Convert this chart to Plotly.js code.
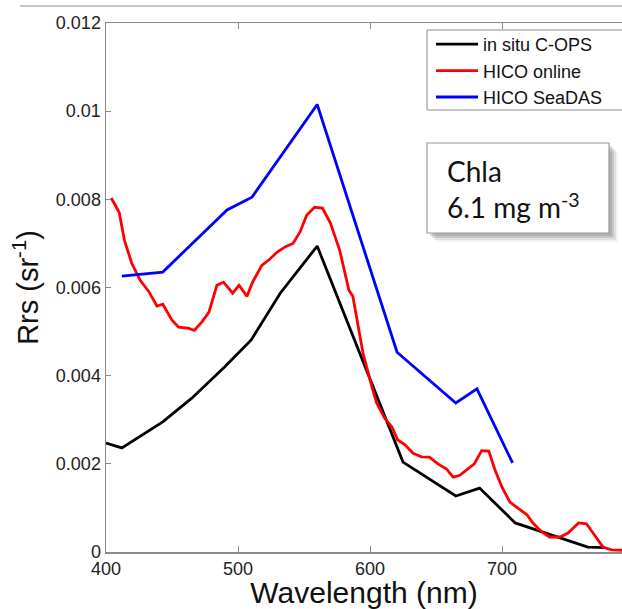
<!DOCTYPE html>
<html>
<head>
<meta charset="utf-8">
<script src="https://cdn.plot.ly/plotly-3.0.1.min.js"></script>
<style>html,body{margin:0;padding:0;background:#fff;}#chart{width:622px;height:609px;}</style>
</head>
<body>
<div id="chart"></div>
<script>
// ---- data ----
const copsWl   = [400, 412, 443, 465, 490, 510, 532, 560, 625, 665, 683, 710, 765, 778];
const copsRrs  = [0.00247, 0.00236, 0.00295, 0.00349, 0.00420, 0.00481, 0.00587, 0.00694, 0.00204, 0.00127, 0.00145, 0.00066, 0.00011, 0.00010];

const onlineWl  = [404, 410, 414, 419.5, 425.8, 432.6, 438.6, 443, 450, 455, 462, 467, 472.7, 478, 484, 489, 496, 500.8, 506.8, 511, 518, 524, 529.5, 535.6, 541.7, 547, 552, 558, 564, 570, 577, 584, 587, 594.7, 601.5, 605, 611, 616.7, 621, 626.5, 632.6, 639, 645, 651.5, 658, 663, 668, 673.5, 679, 684.6, 690, 694.7, 700, 706, 712, 719, 723.6, 730, 736, 744, 750, 758, 764, 770, 776.5, 783, 791];
const onlineRrs = [0.00803, 0.00770, 0.00707, 0.00655, 0.00617, 0.00590, 0.00558, 0.00562, 0.00526, 0.00510, 0.00508, 0.00503, 0.00522, 0.00544, 0.00605, 0.00612, 0.00587, 0.00605, 0.00580, 0.00612, 0.00650, 0.00664, 0.00680, 0.00692, 0.00700, 0.00726, 0.00764, 0.00782, 0.00780, 0.00746, 0.00685, 0.00594, 0.00580, 0.00451, 0.00374, 0.00338, 0.00304, 0.00283, 0.00254, 0.00243, 0.00224, 0.00216, 0.00215, 0.00200, 0.00188, 0.00170, 0.00174, 0.00186, 0.00200, 0.00230, 0.00229, 0.00186, 0.00147, 0.00113, 0.00099, 0.00084, 0.00065, 0.00046, 0.00034, 0.00034, 0.00043, 0.00066, 0.00064, 0.00038, 0.00011, 0.00005, 0.00004];

const seadasWl  = [412, 443, 491.7, 510.6, 560, 620.5, 665, 681, 708];
const seadasRrs = [0.00626, 0.00635, 0.00776, 0.00805, 0.01015, 0.00453, 0.00338, 0.00370, 0.00202];

const seriesNames = ['in situ C-OPS', 'HICO online', 'HICO SeaDAS'];
const xTickVals = [400, 500, 600, 700, 800];
const xTickText = ['400', '500', '600', '700', '800'];
const yTickVals = [0, 0.002, 0.004, 0.006, 0.008, 0.01, 0.012];
const yTickText = ['0', '0.002', '0.004', '0.006', '0.008', '0.01', '0.012'];
const chlaText = 'Chla<br>6.1 mg m<sup>-3</sup>';

// ---- layout helpers (pixel -> paper) ----
const L = 106, T = 23, W = 516, H = 529;
const px = x => (x - L) / W;
const py = y => (T + H - y) / H;

const traces = [
  {x: copsWl, y: copsRrs, name: seriesNames[0], mode: 'lines', line: {color: '#000000', width: 2.8}},
  {x: onlineWl, y: onlineRrs, name: seriesNames[1], mode: 'lines', line: {color: '#ff0000', width: 2.8}},
  {x: seadasWl, y: seadasRrs, name: seriesNames[2], mode: 'lines', line: {color: '#0000ff', width: 2.8}}
];

const shadow = [];
[[9, 0.07], [7, 0.12], [5, 0.18], [3, 0.2]].forEach(([o, op]) => {
  shadow.push({type: 'rect', xref: 'paper', yref: 'paper', layer: 'above',
    x0: px(427 + o), x1: px(609 + o), y0: py(233 + o), y1: py(143 + o),
    line: {width: 0}, fillcolor: 'rgba(90,90,90,' + op + ')'});
});

const layout = {
  width: 622, height: 609,
  margin: {l: L, r: 0, t: T, b: 609 - T - H, pad: 0},
  paper_bgcolor: '#ffffff', plot_bgcolor: '#ffffff',
  font: {family: 'Liberation Sans, Arial, sans-serif', color: '#222222', size: 18},
  showlegend: true,
  legend: {x: px(431), y: py(26), xanchor: 'left', yanchor: 'top',
    borderwidth: 0, bgcolor: 'rgba(0,0,0,0)', itemwidth: 42,
    font: {size: 18, color: '#111111'}, tracegroupgap: 0},
  xaxis: {range: [400, 790.9], tickvals: xTickVals, ticktext: xTickText,
    ticks: 'inside', ticklen: 6, tickcolor: '#8a8a8a', tickwidth: 1,
    showline: true, linecolor: '#8a8a8a', linewidth: 1.5, mirror: 'ticks',
    showgrid: false, zeroline: false, tickfont: {size: 18},
    title: {text: 'Wavelength (nm)', font: {size: 30, color: '#111111'}, standoff: 3}},
  yaxis: {range: [0, 0.012], tickvals: yTickVals, ticktext: yTickText,
    ticks: 'inside', ticklen: 5, tickcolor: '#8a8a8a', tickwidth: 1,
    showline: true, linecolor: '#8a8a8a', linewidth: 1.5, mirror: false,
    showgrid: false, zeroline: false, tickfont: {size: 18},
    title: {text: 'Rrs (sr<sup>-1</sup>)', font: {size: 29, color: '#111111'}, standoff: 8}},
  shapes: [
    {type: 'line', xref: 'paper', yref: 'paper', x0: px(20), x1: 1, y0: py(6), y1: py(6),
     line: {color: '#b4b4b4', width: 1.5}},
    {type: 'rect', xref: 'paper', yref: 'paper', layer: 'below',
     x0: px(427), x1: px(630), y0: py(110), y1: py(30),
     line: {color: '#8c8c8c', width: 1}, fillcolor: '#ffffff'},
    ...shadow,
    {type: 'rect', xref: 'paper', yref: 'paper', layer: 'above',
     x0: px(427), x1: px(609), y0: py(233), y1: py(143),
     line: {color: '#9a9a9a', width: 1.2}, fillcolor: '#ffffff'}
  ],
  annotations: [
    {xref: 'paper', yref: 'paper', x: px(445), y: py(189), xanchor: 'left', yanchor: 'middle',
     align: 'left', showarrow: false, text: chlaText,
     font: {family: 'Lato, Open Sans, sans-serif', size: 28, color: '#111111'}}
  ]
};

Plotly.newPlot('chart', traces, layout, {staticPlot: true, displayModeBar: false});
</script>
</body>
</html>
